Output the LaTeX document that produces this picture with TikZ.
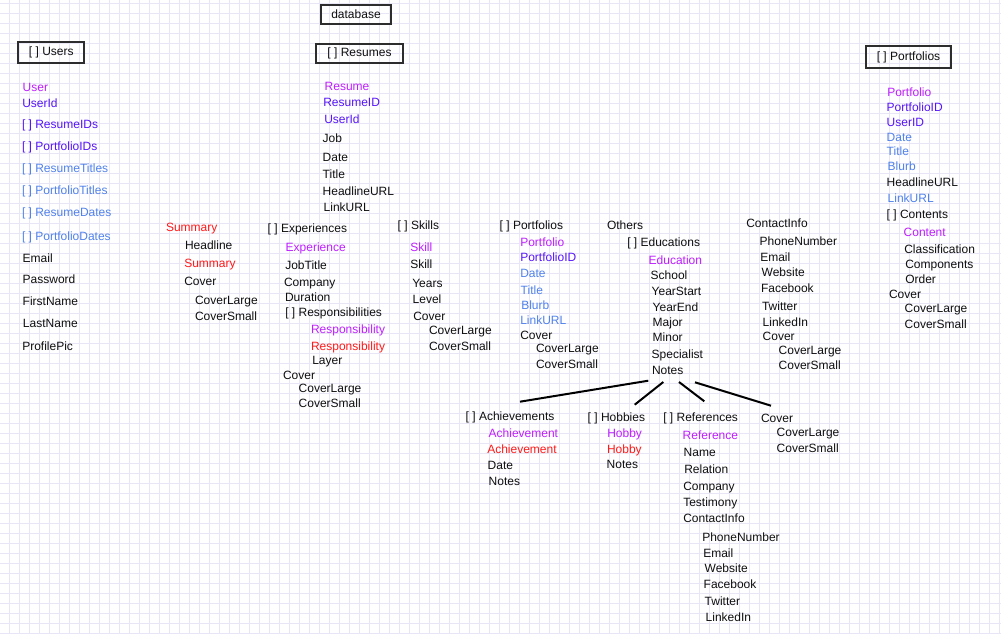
\documentclass[tikz,border=0pt]{standalone}
\usepackage{fontspec}
\setmainfont{Liberation Sans}
\definecolor{mag}{RGB}{190,30,255}
\definecolor{vio}{RGB}{85,20,250}
\definecolor{blu}{RGB}{80,130,235}
\definecolor{rd}{RGB}{255,25,25}
\definecolor{gridc}{RGB}{232,230,246}
\definecolor{boxc}{RGB}{45,45,45}
\definecolor{txt}{RGB}{15,15,15}
\tikzset{
  t/.style={anchor=west, inner sep=0pt, outer sep=0pt, text=txt,
    font=\fontsize{12}{14}\selectfont, text height=8.6pt, text depth=0pt},
  tm/.style={t, text=mag},
  tv/.style={t, text=vio},
  tb/.style={t, text=blu},
  tr/.style={t, text=rd},
  hbox/.style={draw=boxc, line width=2pt, inner sep=0pt, text=txt,
    font=\fontsize{12}{14}\selectfont},
  link/.style={line width=2pt, draw=black}
}
\begin{document}
\begin{tikzpicture}[x=1pt,y=-1pt]
\path[use as bounding box, fill=white] (0,0) rectangle (1001,634);
\foreach \gx in {9.5,19.5,...,999.5} {\draw[gridc, line width=1pt] (\gx,0) -- (\gx,634);}
\foreach \gy in {3.3,13.3,...,633.3} {\draw[gridc, line width=1pt] (0,\gy) -- (1001,\gy);}

% header boxes
\node[hbox, minimum width=70.6pt, minimum height=19.6pt] (db) at (356,14.5) {database};
\node[hbox, minimum width=66pt, minimum height=21.6pt] (users) at (51.3,52.5) {[ ] Users};
\node[hbox, minimum width=86.4pt, minimum height=19.6pt] (resumes) at (359.5,53.5) {[ ] Resumes};
\node[hbox, minimum width=84.4pt, minimum height=22pt] (portfolios) at (908.5,57.3) {[ ] Portfolios};

% Users
\node[tm] (u1) at (22.7,86.7) {User};
\node[tv] (u2) at (22.3,103.3) {UserId};
\node[tv] (u3) at (22,123.7) {[ ] ResumeIDs};
\node[tv] (u4) at (22,145.7) {[ ] PortfolioIDs};
\node[tb] (u5) at (22,167.7) {[ ] ResumeTitles};
\node[tb] (u6) at (22,189.7) {[ ] PortfolioTitles};
\node[tb] (u7) at (22,212.3) {[ ] ResumeDates};
\node[tb] (u8) at (22,235.7) {[ ] PortfolioDates};
\node[t] (u9) at (22.7,257.7) {Email};
\node[t] (u10) at (22.7,279) {Password};
\node[t] (u11) at (22.7,300.7) {FirstName};
\node[t] (u12) at (23,323.3) {LastName};
\node[t] (u13) at (22.3,345.7) {ProfilePic};

% Resumes
\node[tm] (r1) at (324.7,85.7) {Resume};
\node[tv] (r2) at (323.3,101.7) {ResumeID};
\node[tv] (r3) at (324.3,119.3) {UserId};
\node[t] (r4) at (322.7,138.3) {Job};
\node[t] (r5) at (322.7,156.7) {Date};
\node[t] (r6) at (322.7,174.3) {Title};
\node[t] (r7) at (322.7,190.7) {HeadlineURL};
\node[t] (r8) at (323.7,206.7) {LinkURL};

% Summary
\node[tr] (s1) at (166,226.7) {Summary};
\node[t] (s2) at (185,244.7) {Headline};
\node[tr] (s3) at (184.3,262.7) {Summary};
\node[t] (s4) at (184.3,280.7) {Cover};
\node[t] (s5) at (195,299.7) {CoverLarge};
\node[t] (s6) at (195,315.7) {CoverSmall};

% Experiences
\node[t] (e1) at (267.7,227.7) {[ ] Experiences};
\node[tm] (e2) at (285.7,246.7) {Experience};
\node[t] (e3) at (285.3,264.7) {JobTitle};
\node[t] (e4) at (284,281.7) {Company};
\node[t] (e5) at (285,296.7) {Duration};
\node[t] (e6) at (285.3,311.7) {[ ] Responsibilities};
\node[tm] (e7) at (311,328.7) {Responsibility};
\node[tr] (e8) at (311,345.7) {Responsibility};
\node[t] (e9) at (312.3,359.7) {Layer};
\node[t] (e10) at (283,374.7) {Cover};
\node[t] (e11) at (298.7,387.7) {CoverLarge};
\node[t] (e12) at (298.7,403.3) {CoverSmall};

% Skills
\node[t] (k1) at (397.7,224.7) {[ ] Skills};
\node[tm] (k2) at (410.3,246.7) {Skill};
\node[t] (k3) at (410.3,264.3) {Skill};
\node[t] (k4) at (412.3,282.7) {Years};
\node[t] (k5) at (412.7,299) {Level};
\node[t] (k6) at (413.3,315.7) {Cover};
\node[t] (k7) at (429,329.7) {CoverLarge};
\node[t] (k8) at (429,345.7) {CoverSmall};

% Portfolios (resume)
\node[t] (p1) at (499.7,224.7) {[ ] Portfolios};
\node[tm] (p2) at (520.3,241.7) {Portfolio};
\node[tv] (p3) at (520.3,257) {PortfolioID};
\node[tb] (p4) at (520.3,272.7) {Date};
\node[tb] (p5) at (520.7,289.7) {Title};
\node[tb] (p6) at (521.3,304.7) {Blurb};
\node[tb] (p7) at (520.3,320.3) {LinkURL};
\node[t] (p8) at (520.3,334.7) {Cover};
\node[t] (p9) at (536,347.7) {CoverLarge};
\node[t] (p10) at (536,363.7) {CoverSmall};

% Others / Educations
\node[t] (o1) at (607,224.7) {Others};
\node[t] (o2) at (627.3,242) {[ ] Educations};
\node[tm] (o3) at (648.7,260) {Education};
\node[t] (o4) at (650.7,274.7) {School};
\node[t] (o5) at (651.7,290.7) {YearStart};
\node[t] (o6) at (652.7,307.3) {YearEnd};
\node[t] (o7) at (652.7,322) {Major};
\node[t] (o8) at (652.7,337.3) {Minor};
\node[t] (o9) at (651.7,353.7) {Specialist};
\node[t] (onotes) at (652,369.7) {Notes};

% ContactInfo
\node[t] (c1) at (746.3,222.7) {ContactInfo};
\node[t] (c2) at (759.7,240.7) {PhoneNumber};
\node[t] (c3) at (760.3,256.7) {Email};
\node[t] (c4) at (761.7,272.3) {Website};
\node[t] (c5) at (761,288.3) {Facebook};
\node[t] (c6) at (762,305.7) {Twitter};
\node[t] (c7) at (762.7,321.7) {LinkedIn};
\node[t] (c8) at (762.7,336.3) {Cover};
\node[t] (c9) at (778.7,349.7) {CoverLarge};
\node[t] (c10) at (778.7,365.3) {CoverSmall};

% Portfolios (right)
\node[tm] (f1) at (887.3,91.7) {Portfolio};
\node[tv] (f2) at (886.7,107) {PortfolioID};
\node[tv] (f3) at (886.7,121.7) {UserID};
\node[tb] (f4) at (886.7,136.7) {Date};
\node[tb] (f5) at (886.7,150.7) {Title};
\node[tb] (f6) at (887.7,165.7) {Blurb};
\node[t] (f7) at (886.7,181.7) {HeadlineURL};
\node[tb] (f8) at (887.7,198.3) {LinkURL};
\node[t] (f9) at (886.7,214.3) {[ ] Contents};
\node[tm] (f10) at (903.7,231.7) {Content};
\node[t] (f11) at (904.3,248.7) {Classification};
\node[t] (f12) at (905.3,263.7) {Components};
\node[t] (f13) at (905.3,278.7) {Order};
\node[t] (f14) at (889,293.7) {Cover};
\node[t] (f15) at (904.7,307.7) {CoverLarge};
\node[t] (f16) at (904.7,323.7) {CoverSmall};

% Achievements
\node[t] (a1) at (465.7,415.7) {[ ] Achievements};
\node[tm] (a2) at (488.7,433.3) {Achievement};
\node[tr] (a3) at (487.3,448.7) {Achievement};
\node[t] (a4) at (487.7,464.7) {Date};
\node[t] (a5) at (488.7,481.3) {Notes};

% Hobbies
\node[t] (h1) at (587.7,416.7) {[ ] Hobbies};
\node[tm] (h2) at (607.3,433.3) {Hobby};
\node[tr] (h3) at (607,449) {Hobby};
\node[t] (h4) at (606.7,463.7) {Notes};

% References
\node[t] (x1) at (663.3,416.7) {[ ] References};
\node[tm] (x2) at (682.7,435.3) {Reference};
\node[t] (x3) at (683.7,452.3) {Name};
\node[t] (x4) at (684.3,468.7) {Relation};
\node[t] (x5) at (683.3,486) {Company};
\node[t] (x6) at (683.3,502.3) {Testimony};
\node[t] (x7) at (683.3,518.3) {ContactInfo};
\node[t] (x8) at (702.3,537.3) {PhoneNumber};
\node[t] (x9) at (703.3,552.7) {Email};
\node[t] (x10) at (704.7,568.3) {Website};
\node[t] (x11) at (703.7,584.3) {Facebook};
\node[t] (x12) at (704.7,601) {Twitter};
\node[t] (x13) at (705.7,617.3) {LinkedIn};

% Cover (others)
\node[t] (v1) at (761,417.7) {Cover};
\node[t] (v2) at (776.7,431.7) {CoverLarge};
\node[t] (v3) at (776.7,447.7) {CoverSmall};

% connectors from Notes
\coordinate (n1) at (648.3,380.7);
\coordinate (n2) at (663.3,382);
\coordinate (n3) at (679,382);
\coordinate (n4) at (695,382.3);
\coordinate (ta) at (520,401.7);
\coordinate (th) at (634.7,404.7);
\coordinate (tx) at (704.3,401.3);
\coordinate (tv) at (771,405.7);
\draw[link] (n1) -- (ta);
\draw[link] (n2) -- (th);
\draw[link] (n3) -- (tx);
\draw[link] (n4) -- (tv);
\end{tikzpicture}
\end{document}
